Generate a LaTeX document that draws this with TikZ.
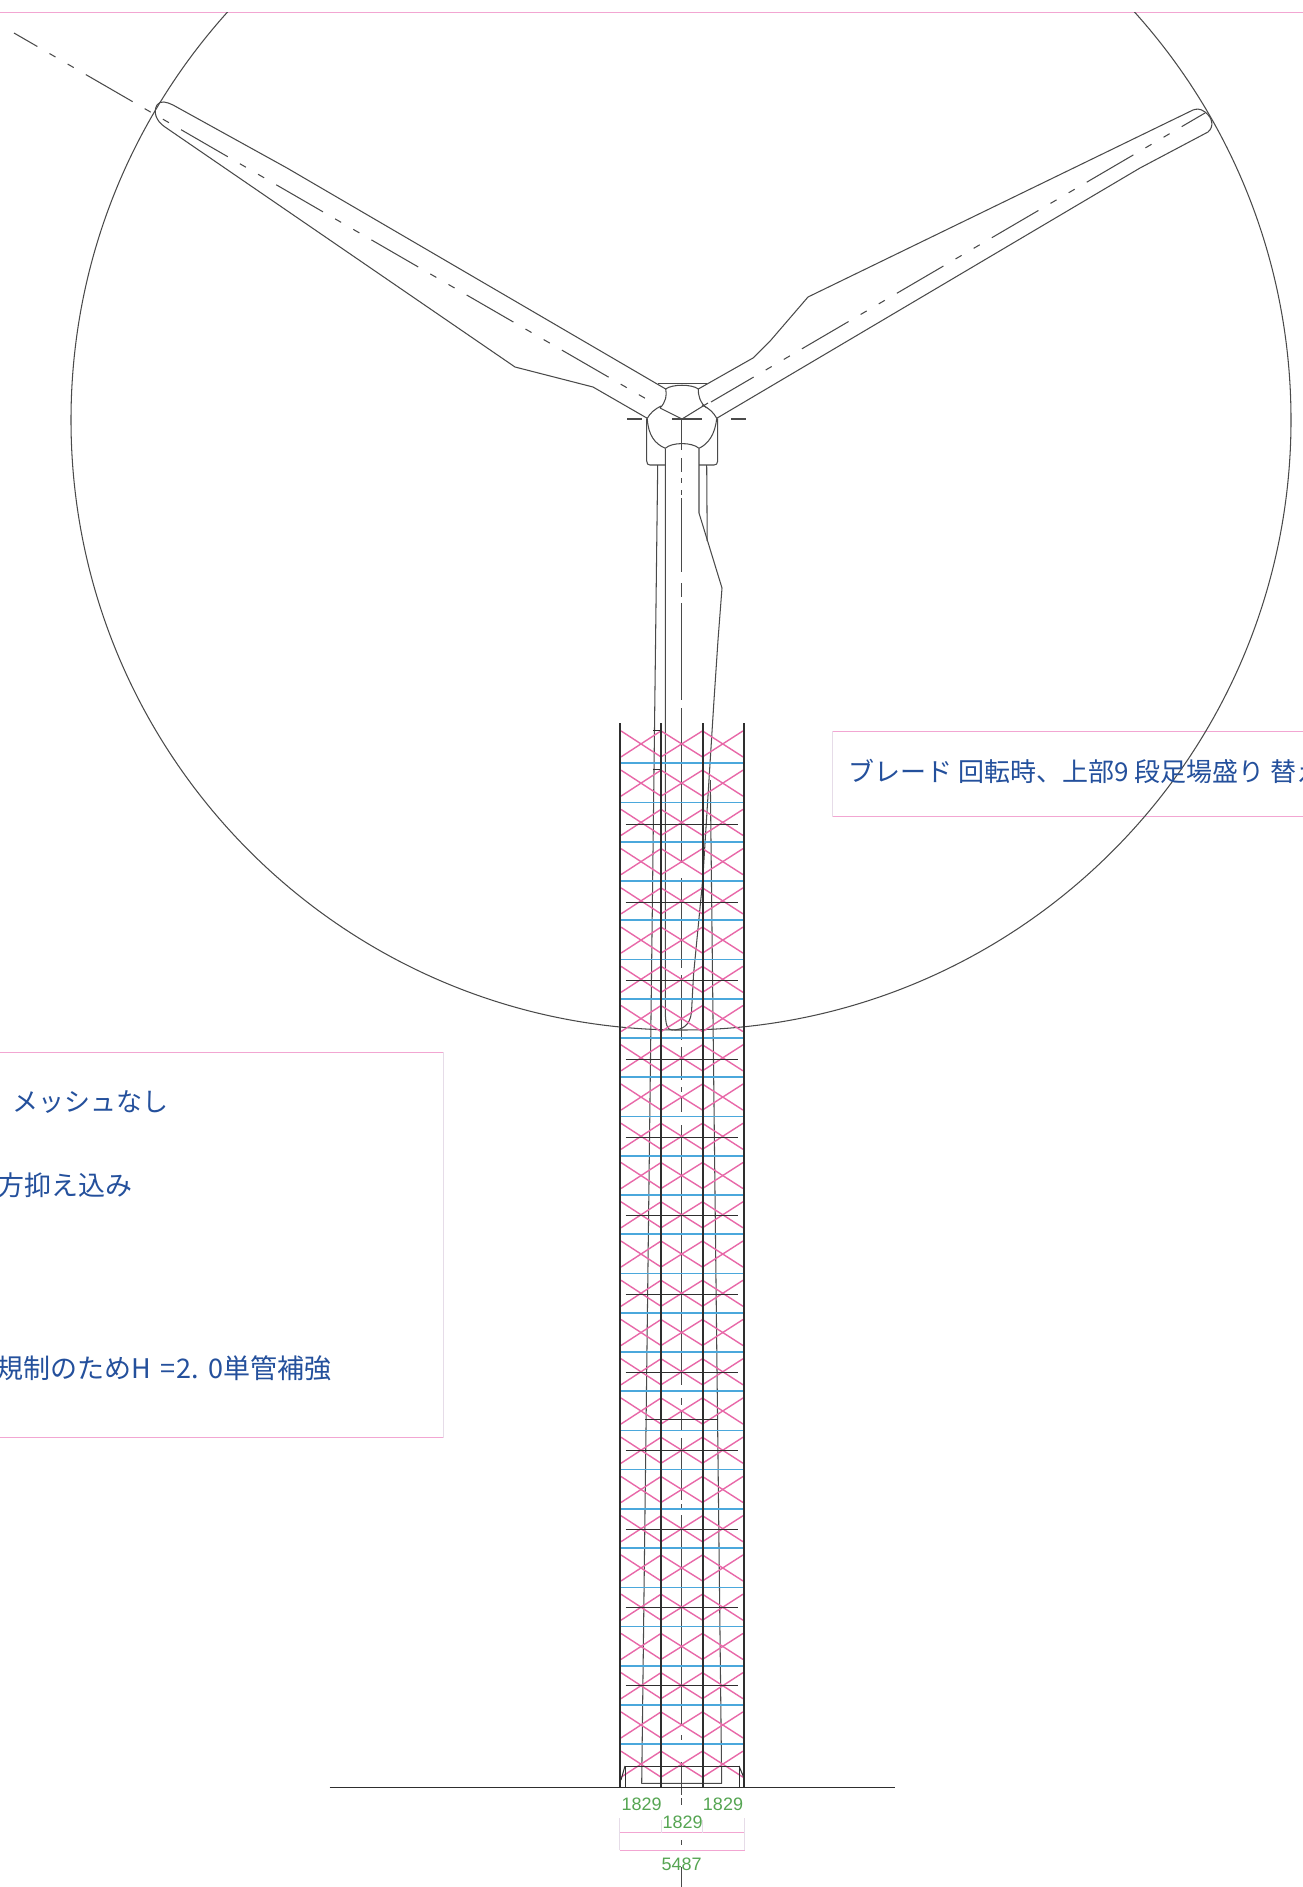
\documentclass[tikz,border=0pt]{standalone}
\usepackage{fontspec}
\setmainfont{Liberation Sans}
\newfontfamily\jp{Noto Sans CJK JP}
\definecolor{xpink}{HTML}{E868A8}
\definecolor{framepink}{HTML}{F2A6D2}
\definecolor{framepale}{HTML}{E6DCE8}
\definecolor{ledger}{HTML}{4BA8DC}
\definecolor{dimgreen}{HTML}{55A552}
\definecolor{notetxt}{HTML}{24509C}
\definecolor{ink}{HTML}{4A4A4A}
\definecolor{dark}{HTML}{2E2E2E}
\tikzset{
  outline/.style={draw=ink,line width=1.05pt,line join=round},
  centre/.style={draw=ink,line width=1.05pt,dash pattern=on 54pt off 14pt on 7pt off 14pt on 7pt off 14pt,dash phase=27pt},
  column/.style={draw=dark,line width=2pt},
  crossbar/.style={draw=xpink,line width=1.4pt},
  ledgerbar/.style={draw=ledger,line width=1.7pt},
  blackbar/.style={draw=dark,line width=1pt},
  frame/.style={draw=framepink,line width=0.9pt},
  framep/.style={draw=framepale,line width=0.9pt},
  note/.style={text=notetxt,inner sep=0pt,font=\jp\fontsize{26}{30}\selectfont},
  dimtxt/.style={text=dimgreen,inner sep=0pt,font=\fontsize{18}{20}\selectfont},
}
\begin{document}
\begin{tikzpicture}[x=1pt,y=-1pt]
\useasboundingbox (0,0) rectangle (1303,1887);
\fill[white] (0,0) rectangle (1303,1887);
\clip (0,0) rectangle (1303,1887);
% page line and note frames
\draw[frame] (0,12) -- (1303,12);
\draw[frame] (0,1052.3) -- (443,1052.3);
\draw[frame] (0,1437.7) -- (443,1437.7);
\draw[framep] (443,1052.3) -- (443,1437.7);
\draw[frame] (832.7,731) -- (1303,731);
\draw[frame] (832.7,816.7) -- (1303,816.7);
\draw[framep] (832.7,731) -- (832.7,816.7);
% rotor sweep circle
\begin{scope}
\clip (0,12) rectangle (1303,1887);
\draw[outline] (681,420) circle (610);
\end{scope}
% blade centre lines
\draw[centre] (14,33) -- (655,404);
\draw[centre] (1205,113) -- (711,402);
\draw[outline] (660,408) -- (682,419) -- (708,403);
% left blade
\draw[outline] (647.3,418.3) -- (593,387) -- (515,367) -- (165,127)
  .. controls (156,121) and (153,112) .. (157,105)
  .. controls (160,100) and (167,102) .. (173,105) -- (287,168) -- (665.7,389);
% right blade
\draw[outline] (716.7,418.3) -- (1140,168) -- (1208,132)
  .. controls (1214,127) and (1213,118) .. (1205,112)
  .. controls (1200,108) and (1196,109) .. (1193,110) -- (808,297) -- (771,340) -- (753,358) -- (698.3,389);
% hub
\draw[outline] (658.3,383.3) -- (706.7,383.3);
\draw[outline] (665.7,389) .. controls (672,384) and (692,384) .. (698.3,389);
\draw[outline] (665.7,389) .. controls (667,395) and (666,402) .. (660,408);
\draw[outline] (698.3,389) .. controls (698,395) and (700,403) .. (706.7,408);
\draw[outline] (647.3,418.3) .. controls (650,413) and (655,409) .. (661,406);
\draw[outline] (716.7,418.3) .. controls (714,413) and (709,408) .. (702,405);
\draw[outline] (647.3,418.3) .. controls (648,435) and (655,444) .. (665.3,448.3);
\draw[outline] (716.7,418.3) .. controls (715,435) and (708,444) .. (699,448.3);
\draw[outline] (665.3,448.3) .. controls (672,442) and (692,442) .. (699,448.3);
% nacelle
\draw[outline] (646.7,418.3) -- (646.7,461) .. controls (646.7,464) and (648,465) .. (650,465) -- (665.3,465);
\draw[outline] (717.7,418.3) -- (717.7,461) .. controls (717.7,464) and (716,465) .. (714,465) -- (699,465);
% crosshair
\foreach \a/\b in {627/642,672/702,731/746} \draw[outline] (\a,419) -- (\b,419);
% tower
\draw[outline] (657.7,465) -- (641.7,1783.3) -- (721.7,1783.3) -- (710.3,780);
\draw[outline] (706.7,465) -- (707.2,541);
% hanging blade
\draw[outline] (665.3,448.3) -- (665.3,1012)
  .. controls (665.5,1024) and (667,1030) .. (672,1030)
  .. controls (682,1030) and (690,1026) .. (691.5,1012)
  -- (693.5,975) -- (702.7,880) -- (714,700) -- (718,640) -- (722,588) -- (699,513) -- (699,448.3);
% tower centre line
\foreach \a/\b in {419/450,458/472,478/483,490/495,498/572,583/597,603/700,708/863,878/968,975/1040,1047/1080,1087/1092,1097/1112,1125/1385,1398/1405,1412/1430,1438/1500,1504/1510,1515/1725,1735/1740,1762/1787,1788/1795,1798/1805,1840/1845,1867/1887}
  \draw[outline] (681.7,\a) -- (681.7,\b);
% cross bracing
\foreach \k in {0,...,26}{
  \pgfmathsetmacro\yc{743.9+39.24*\k}
  \foreach \xa/\xb in {621/661,661/702.5,702.5/743}{
    \draw[crossbar] (\xa,\yc-13) -- (\xb,\yc+13);
    \draw[crossbar] (\xa,\yc+13) -- (\xb,\yc-13);
  }
}
% ledgers
\foreach \k in {0,...,25}{
  \pgfmathsetmacro\yl{763.3+39.24*\k}
  \draw[ledgerbar] (620,\yl) -- (744,\yl);
}
% black transoms
\foreach \k in {0,...,11}{
  \pgfmathsetmacro\yb{824.3+78.3*\k}
  \draw[blackbar] (625.7,\yb) -- (737.7,\yb);
}
\draw[blackbar] (645,1419.3) -- (718,1419.3);
\draw[blackbar] (653,730) -- (661,730);
\draw[blackbar] (653,769.5) -- (661,769.5);
% columns
\foreach \x in {619.5,661,702.5,744} \draw[column] (\x,723) -- (\x,1787);
% base frame
\draw[blackbar] (625,1787) -- (625,1766) -- (739,1766) -- (739,1787);
\draw[blackbar] (621,1780) -- (625,1766);
\draw[blackbar] (739,1766) -- (744,1778);
% ground
\draw[draw=dark,line width=1pt] (329.6,1787) -- (895,1787);
% dimensions
\draw[frame] (619.5,1832.7) -- (744.5,1832.7);
\draw[frame] (619.5,1850) -- (744.5,1850);
\draw[framep] (619.5,1818) -- (619.5,1850);
\draw[framep] (744.5,1818) -- (744.5,1850);
\draw[framep] (661,1820) -- (661,1832.7);
\draw[framep] (702.5,1820) -- (702.5,1832.7);
\node[dimtxt] (d1) at (641.7,1804) {1829};
\node[dimtxt] (d2) at (723,1804) {1829};
\node[dimtxt] (d3) at (682.7,1822) {1829};
\node[dimtxt] (d4) at (681.7,1864) {5487};
% notes
\node[note,anchor=west] (n1) at (12,1102) {メッシュなし};
\node[note,anchor=east,font=\jp\fontsize{27}{30}\selectfont] (n2) at (133,1185) {方抑え込み};
\node[note,anchor=east,font=\jp\fontsize{27}{30}\selectfont] (n3) at (332,1368) {規制のためH\hspace{3pt} =\hspace{1pt}2. \hspace{2pt}0単管補強};
\node[note,anchor=west] (n4) at (848,771.7) {ブレード 回転時、上部9 段足場盛り 替え};
\end{tikzpicture}
\end{document}
